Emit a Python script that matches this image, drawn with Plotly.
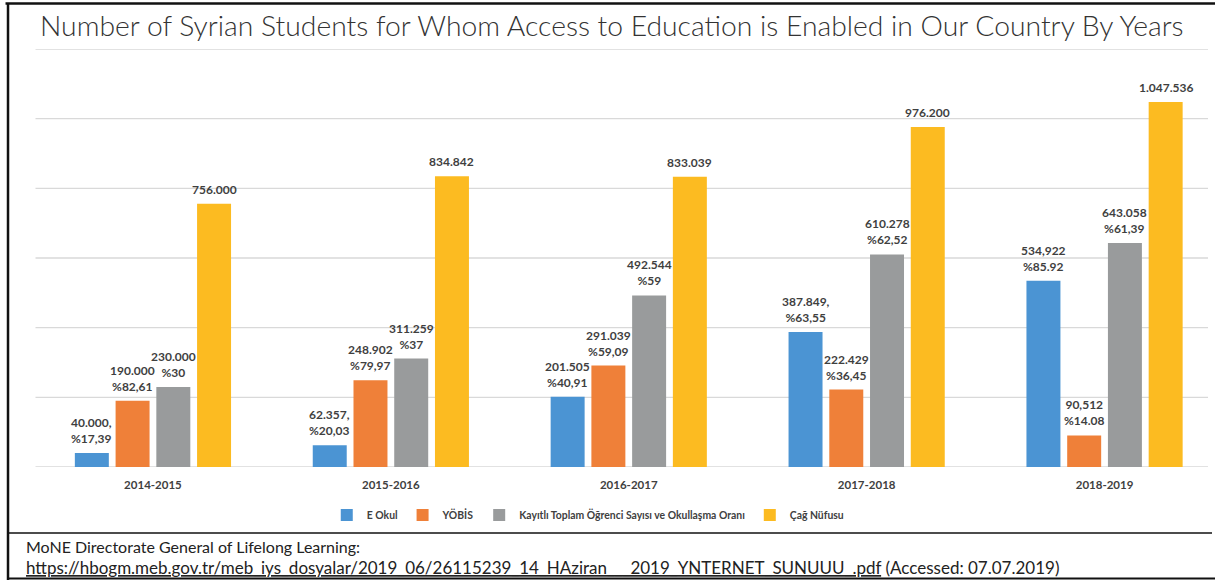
import plotly.graph_objects as go

# ---- data -------------------------------------------------------------
years = ["2014-2015", "2015-2016", "2016-2017", "2017-2018", "2018-2019"]

series_names = [
    "E Okul",
    "YÖBİS",
    "Kayıtlı Toplam Öğrenci Sayısı ve Okullaşma Oranı",
    "Çağ Nüfusu",
]

e_okul = [40000, 62357, 201505, 387849, 534922]
yobis = [190000, 248902, 291039, 222429, 90512]
kayitli = [230000, 311259, 492544, 610278, 643058]
cag_nufusu = [756000, 834842, 833039, 976200, 1047536]

e_okul_labels = ["40.000,<br>%17,39", "62.357,<br>%20,03", "201.505<br>%40,91",
                 "387.849,<br>%63,55", "534,922<br>%85.92"]
yobis_labels = ["190.000<br>%82,61", "248.902<br>%79,97", "291.039<br>%59,09",
                "222.429<br>%36,45", "90,512<br>%14.08"]
kayitli_labels = ["230.000<br>%30", "311.259<br>%37", "492.544<br>%59",
                  "610.278<br>%62,52", "643.058<br>%61,39"]
cag_labels = ["756.000", "834.842", "833.039", "976.200", "1.047.536"]

colors = ["#4B94D3", "#EF8039", "#999B9C", "#FCBB21"]

# ---- layout geometry (pixels) ----------------------------------------
W, H = 1215, 580
L, R, T, B = 33.5, 0, 49, 113
PW, PH = W - L - R, H - T - B
CAT_PX = 238.0                      # width of one year category
X_RANGE = [-0.5, -0.5 + PW / CAT_PX]
BARGAP, GROUPGAP = 0.315, 0.166
SLOT_PX = CAT_PX * (1 - BARGAP) / 4  # width reserved per series in a group
Y_MAX, Y_STEP = 1200000, 200000


def px(x):
    return (x - L) / PW


def py(y):
    return (H - B - y) / PH


FONT = "Lato"
LABEL_COLOR = "#3F3F3F"

fig = go.Figure()
annotations = []
all_series = [e_okul, yobis, kayitli, cag_nufusu]
all_labels = [e_okul_labels, yobis_labels, kayitli_labels, cag_labels]
for i, (name, vals, labels, col) in enumerate(zip(series_names, all_series, all_labels, colors)):
    fig.add_trace(go.Bar(
        name=name, x=years, y=vals, marker=dict(color=col, line=dict(width=0)),
        hoverinfo="skip",
    ))
    # value labels above each bar
    for yr, v, lab in zip(years, vals, labels):
        annotations.append(dict(
            x=yr, y=v, xref="x", yref="y", text=lab, showarrow=False,
            xanchor="center", yanchor="bottom", yshift=5,
            xshift=(i - 1.5) * SLOT_PX, align="center",
            font=dict(family=FONT, size=12, color=LABEL_COLOR, weight="bold"),
        ))

shapes = []
# horizontal gridlines
for gv in range(0, Y_MAX + 1, Y_STEP):
    shapes.append(dict(type="line", xref="paper", yref="y", x0=px(35), x1=px(1208),
                       y0=gv, y1=gv, line=dict(color="#D9D9D9", width=1.3), layer="below"))

# outer frame
frame = [
    dict(x0=px(5), x1=px(1215), y0=py(3.5), y1=py(3.5), line=dict(color="#111", width=2.5)),
    dict(x0=px(7.5), x1=px(7.5), y0=py(3), y1=py(580), line=dict(color="#111", width=2.5)),
    dict(x0=px(7), x1=px(1212), y0=py(533), y1=py(533), line=dict(color="#111", width=1.6)),
    dict(x0=px(7), x1=px(1215), y0=py(578.5), y1=py(578.5), line=dict(color="#111", width=2)),
]
for s in frame:
    s.update(type="line", xref="paper", yref="paper", layer="above")
shapes += frame

texts = [
    dict(text="Number of Syrian Students for Whom Access to Education is Enabled in Our Country By Years",
         x=px(612), y=py(25), xanchor="center", yanchor="middle",
         font=dict(family=FONT, size=28.3, color="#333333", weight=300)),
    dict(text="MoNE Directorate General of Lifelong Learning:",
         x=px(23), y=py(546), xanchor="left", yanchor="middle",
         font=dict(family=FONT, size=16, color="#222222")),
    dict(text="<u>https://hbogm.meb.gov.tr/meb_iys_dosyalar/2019_06/26115239_14_HAziran___2019_YNTERNET_SUNUUU_.pdf</u> (Accessed: 07.07.2019)",
         x=px(23), y=py(567), xanchor="left", yanchor="middle",
         font=dict(family=FONT, size=17, color="#222222")),
]
for a in texts:
    a.update(xref="paper", yref="paper", showarrow=False)
annotations += texts

fig.update_layout(
    width=W, height=H,
    margin=dict(l=L, r=R, t=T, b=B, pad=0),
    paper_bgcolor="white", plot_bgcolor="white",
    barmode="group", bargap=BARGAP, bargroupgap=GROUPGAP,
    showlegend=True,
    legend=dict(orientation="h", x=px(588), xanchor="center", y=py(515), yanchor="middle",
                font=dict(family=FONT, size=10.4, color="#404040", weight="bold"),
                itemwidth=30, traceorder="normal", bgcolor="rgba(0,0,0,0)"),
    xaxis=dict(range=X_RANGE, showgrid=False, showline=False, ticks="",
               tickfont=dict(family=FONT, size=11.5, color="#404040", weight="bold"),
               ticklabelstandoff=9, fixedrange=True),
    yaxis=dict(range=[0, Y_MAX], dtick=Y_STEP, showticklabels=False, showgrid=False,
               zeroline=False, showline=False, fixedrange=True),
    shapes=shapes, annotations=annotations,
)

fig.write_html("out.html", config={"displayModeBar": False})
